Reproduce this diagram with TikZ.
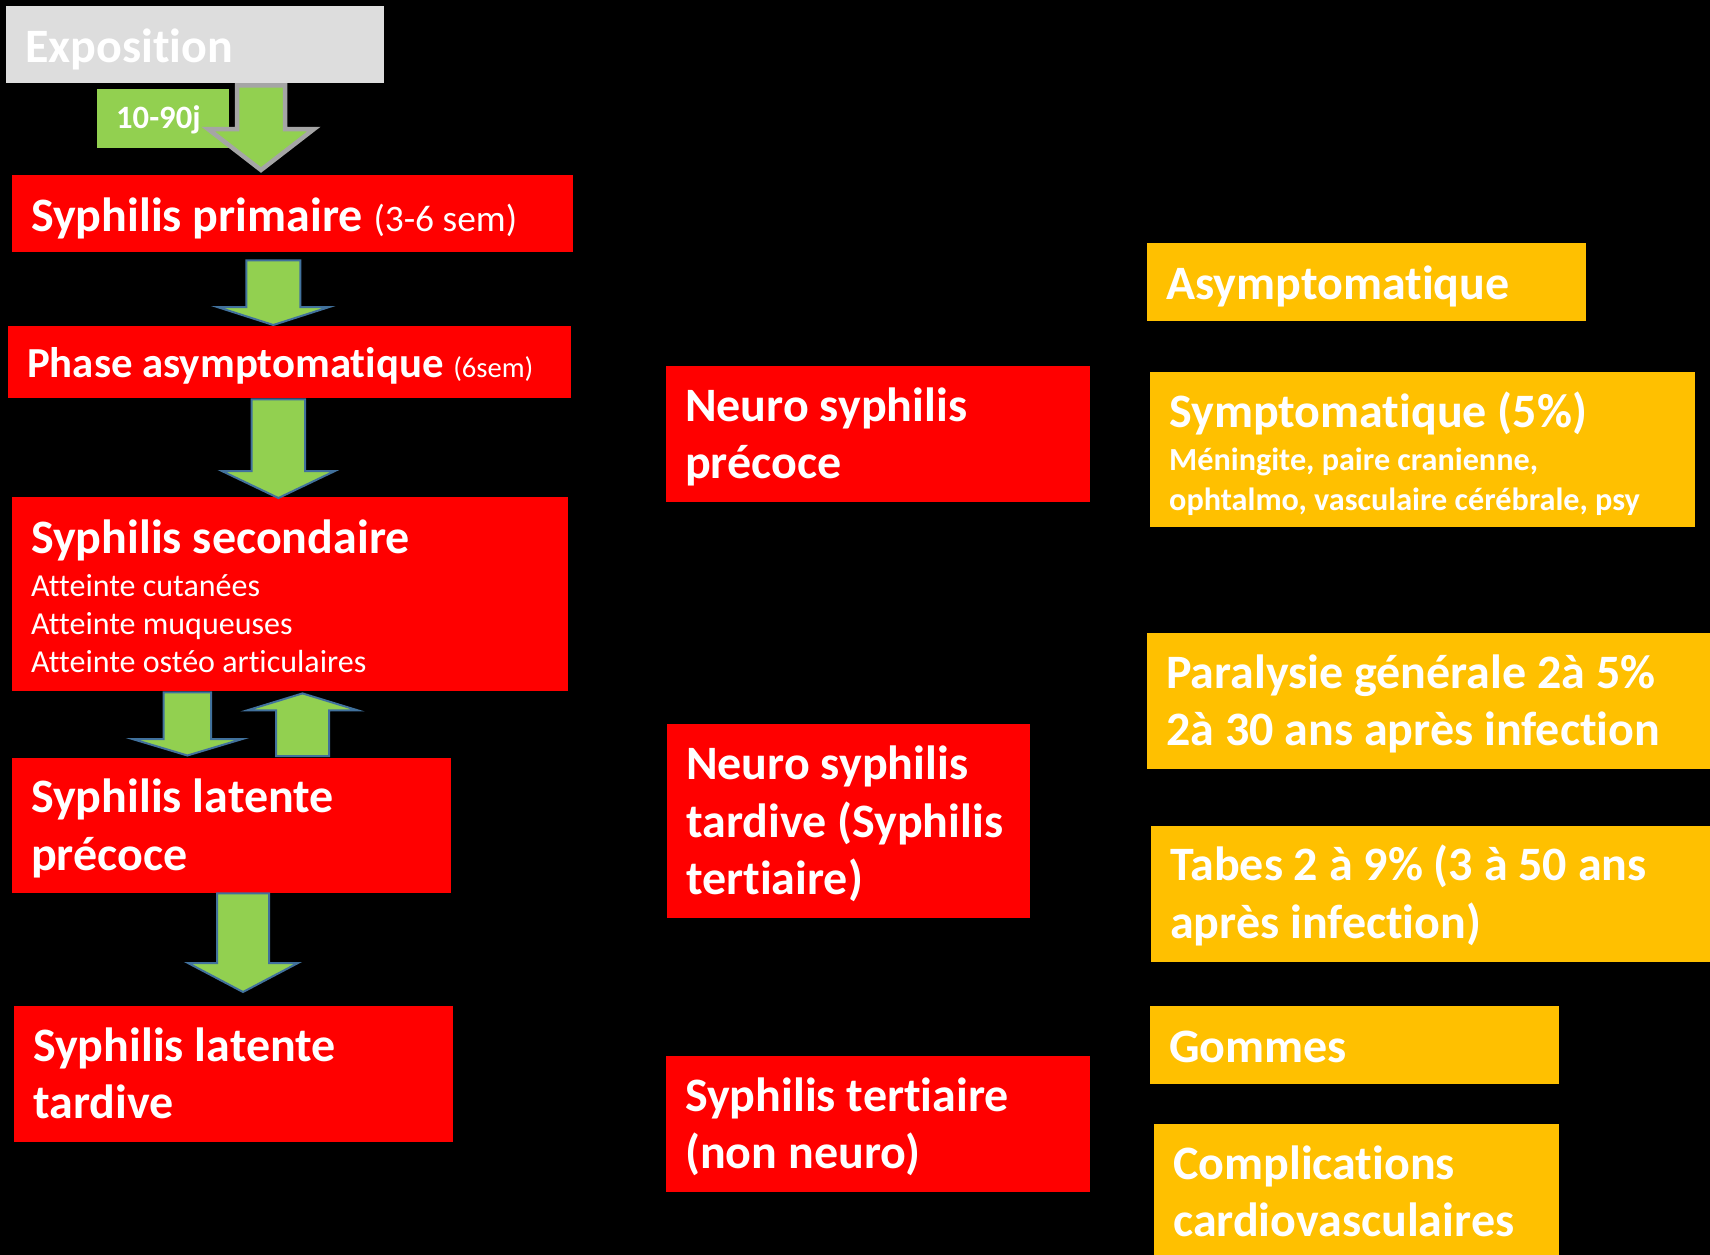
\documentclass[tikz,border=0pt]{standalone}
\usepackage{fontspec}
\setmainfont{Carlito}[Ligatures=NoCommon]
\usetikzlibrary{calc}
\setlength{\parindent}{0pt}

\definecolor{stagered}{HTML}{FF0000}
\definecolor{outcomeorange}{HTML}{FFC000}
\definecolor{arrowgreen}{HTML}{92D050}
\definecolor{arrowblue}{HTML}{41719C}
\definecolor{expogray}{HTML}{DDDDDD}
\definecolor{outlinegray}{HTML}{A5A5A5}

\newcommand{\mainsize}{\fontsize{48pt}{57.3pt}\selectfont}

\tikzset{
  boxsize/.code n args={3}{%
    \pgfmathsetmacro\boxtw{#1-38}\pgfmathsetmacro\boxdp{#2-#3}%
    \edef\boxopts{minimum width=#1pt, minimum height=#2pt,
      text width=\boxtw pt, text height=#3pt, text depth=\boxdp pt}%
    \expandafter\tikzset\expandafter{\boxopts}},
  box/.style={anchor=north west, inner xsep=19pt, inner ysep=0pt, align=flush left,
    text=white, font=\mainsize\bfseries},
  stage/.style={box, fill=stagered},
  outcome/.style={box, fill=outcomeorange},
  fatarrow/.style={fill=arrowgreen, draw=arrowblue, line width=2pt}
}

% block arrow: [style]{from}{tip}{shaft half width}{head half width}{head length}
\newcommand{\fatarrow}[6][]{%
  \draw[fatarrow,#1] let \p1=#2, \p2=#3, \n1={#4}, \n2={#5},
      \n3={sign((\y1)-(\y2))*#6} in
    (\x2-\n1,\y1) -- (\x2+\n1,\y1) -- (\x2+\n1,\y2+\n3) -- (\x2+\n2,\y2+\n3)
    -- (\x2,\y2) -- (\x2-\n2,\y2+\n3) -- (\x2-\n1,\y2+\n3) -- cycle;}

\begin{document}
\begin{tikzpicture}[x=1pt,y=-1pt]
  \path[use as bounding box, fill=black] (0,0) rectangle (1710,1255);

  % stages
  \node[box, fill=expogray, boxsize={378}{77}{56}] (expo) at (6,6) {Exposition};
  \node[box, fill=arrowgreen, boxsize={132}{59}{39.5},
        font=\fontsize{32.6pt}{38pt}\selectfont\bfseries] (delay) at (97,89) {10-90j};
  \node[stage, boxsize={561}{77}{56.5}] (prim) at (12,175)
    {Syphilis primaire {\mdseries\fontsize{37.4pt}{44pt}\selectfont(3-6 sem)}};
  \node[stage, boxsize={563}{72}{51}, font=\fontsize{42.8pt}{51pt}\selectfont\bfseries] (phase) at (8,326)
    {Phase asymptomatique {\mdseries\fontsize{28.6pt}{34pt}\selectfont(6sem)}};
  \node[stage, boxsize={556}{194}{56.5}] (sec) at (12,497)
    {Syphilis secondaire\par\vspace{4pt}{\mdseries\fontsize{32pt}{38.3pt}\selectfont
     Atteinte cutanées\\Atteinte muqueuses\\Atteinte ostéo articulaires\par}};
  \node[stage, boxsize={439}{135}{54.5}] (latprec) at (12,758) {Syphilis latente\\précoce};
  \node[stage, boxsize={439}{136}{55}] (lattard) at (14,1006) {Syphilis latente\\tardive};

  % neuro / tertiaire
  \node[stage, boxsize={424}{136}{55}] (npre) at (666,366) {Neuro syphilis\\précoce};
  \node[stage, boxsize={363}{194}{55.5}] (ntard) at (667,724) {Neuro syphilis\\tardive (Syphilis\\tertiaire)};
  \node[stage, boxsize={424}{136}{55}] (tert) at (666,1056) {Syphilis tertiaire\\(non neuro)};

  % outcomes
  \node[outcome, boxsize={439}{78}{56.5}] (asym) at (1147,243) {Asymptomatique};
  \node[outcome, boxsize={545}{155}{55.5}] (sympt) at (1150,372)
    {Symptomatique (5\%)\par\vspace{2.5pt}{\fontsize{32.2pt}{40pt}\selectfont
     Méningite, paire cranienne,\\ophtalmo, vasculaire cérébrale, psy\par}};
  \node[outcome, boxsize={573}{136}{55.3}] (para) at (1147,633) {Paralysie générale 2à 5\%\\2à 30 ans après infection};
  \node[outcome, boxsize={569}{136}{54.5}] (tabes) at (1151,826) {Tabes 2 à 9\% (3 à 50 ans\\après infection)};
  \node[outcome, boxsize={409}{78}{56}] (gom) at (1150,1006) {Gommes};
  \node[outcome, boxsize={405}{136}{55}] (compl) at (1154,1124) {Complications\\cardiovasculaires};

  % arrows
  \foreach \i/\xx in {1/261,2/273.3,3/278.4,4/187.4,5/302.5,6/243}
    \coordinate (ax\i) at (\xx,0);
  \fatarrow[draw=outlinegray, line width=4.5pt]{($(expo.south -| ax1)+(0,2)$)}{($(prim.north -| ax1)+(0,-5)$)}{24}{53}{41}
  \fatarrow{($(prim.south -| ax2)+(0,8)$)}{($(phase.north -| ax2)+(0,-1)$)}{27}{56}{18}
  \fatarrow{($(phase.south -| ax3)+(0,1)$)}{($(sec.north -| ax3)+(0,1)$)}{26.7}{56.5}{27}
  \fatarrow{($(sec.south -| ax4)+(0,1)$)}{($(latprec.north -| ax4)+(0,-2.5)$)}{23.7}{55}{16.5}
  \fatarrow{($(latprec.north -| ax5)+(0,-2)$)}{($(sec.south -| ax5)+(0,2)$)}{26.5}{55.5}{17}
  \fatarrow{(latprec.south -| ax6)}{($(lattard.north -| ax6)+(0,-14)$)}{26}{55}{29}
\end{tikzpicture}
\end{document}
